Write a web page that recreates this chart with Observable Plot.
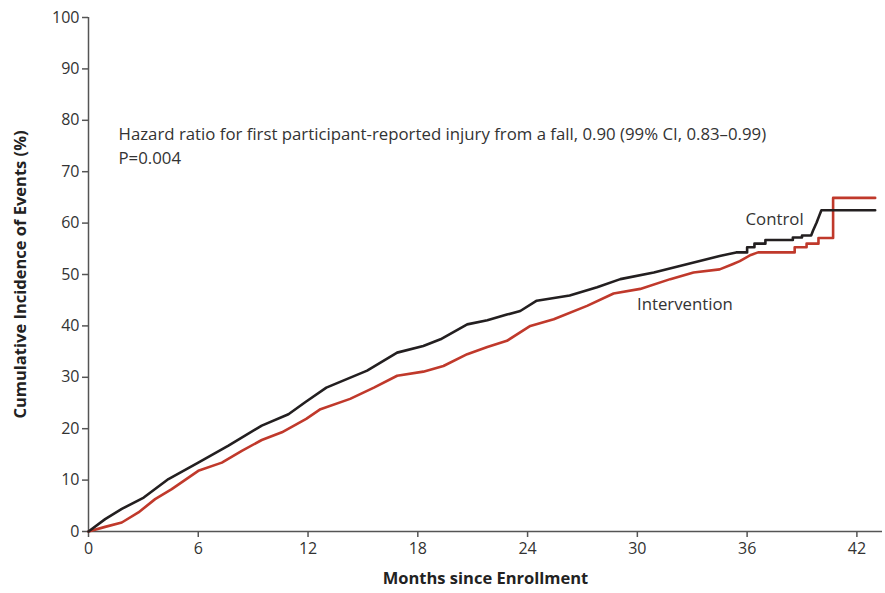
<!DOCTYPE html>
<html>
<head>
<meta charset="utf-8">
<script src="https://cdn.jsdelivr.net/npm/d3@7"></script>
<script src="https://cdn.jsdelivr.net/npm/@observablehq/plot@0.6"></script>
<style>
  html, body { margin: 0; padding: 0; background: #fff; }
  #chart svg { display: block; }
</style>
</head>
<body>
<div id="chart"></div>
<script>
const xTicks = [0, 6, 12, 18, 24, 30, 36, 42];
const yTicks = [0, 10, 20, 30, 40, 50, 60, 70, 80, 90, 100];

const controlMonths = [0, 0.91, 1.82, 3.02, 4.37, 6.0, 7.65, 9.47, 10.93, 11.9, 13.0, 15.23, 16.87, 18.3, 19.24, 20.7, 21.8, 22.87, 23.6, 24.5, 26.3, 27.8, 29.07, 30.9, 32.7, 34.5, 35.4,
  36.0, 36.0, 36.4, 36.4, 37.0, 37.0, 38.5, 38.5, 39.0, 39.0, 39.5, 39.6, 39.8, 39.95, 40.06, 43.0];
const controlValues = [0, 2.4, 4.4, 6.6, 10.2, 13.4, 16.7, 20.6, 22.8, 25.3, 28.0, 31.3, 34.8, 36.1, 37.4, 40.3, 41.1, 42.2, 42.9, 44.9, 45.9, 47.5, 49.1, 50.4, 52.0, 53.6, 54.3,
  54.3, 55.3, 55.3, 56.0, 56.0, 56.7, 56.7, 57.2, 57.2, 57.6, 57.6, 58.5, 60.1, 61.5, 62.5, 62.5];

const interventionMonths = [0, 0.91, 1.82, 2.73, 3.64, 4.55, 6.0, 7.29, 8.38, 9.47, 10.57, 11.9, 12.68, 14.3, 15.6, 16.87, 18.3, 19.4, 20.7, 21.8, 22.87, 24.15, 25.43, 27.25, 28.7, 30.16, 31.8, 33.07, 34.5, 35.2,
  35.6, 36.2, 36.6, 38.6, 38.6, 39.25, 39.25, 39.9, 39.9, 40.7, 40.7, 43.0];
const interventionValues = [0, 0.9, 1.75, 3.7, 6.3, 8.25, 11.8, 13.4, 15.7, 17.8, 19.3, 21.9, 23.8, 25.8, 28.0, 30.3, 31.1, 32.2, 34.5, 35.9, 37.1, 40.0, 41.3, 43.9, 46.3, 47.2, 49.1, 50.4, 51.0, 52.0,
  52.6, 53.8, 54.3, 54.3, 55.3, 55.3, 56.0, 56.0, 57.1, 57.1, 64.9, 64.9];

const seriesNames = ["Control", "Intervention"];
const seriesColors = ["#231f20", "#c0392b"];

const hazardText = "Hazard ratio for first participant-reported injury from a fall, 0.90 (99% CI, 0.83\u20130.99)";
const pText = "P=0.004";

const control = controlMonths.map((m, i) => ({month: m, value: controlValues[i], group: "Control"}));
const intervention = interventionMonths.map((m, i) => ({month: m, value: interventionValues[i], group: "Intervention"}));

const axisColor = "#555";

const chart = Plot.plot({
  width: 885,
  height: 593,
  marginLeft: 88,
  marginRight: 3,
  marginTop: 17,
  marginBottom: 62,
  style: {fontFamily: "'Open Sans', sans-serif", fontSize: "16px", color: "#333", background: "#fff"},
  x: {domain: [0, 43.4]},
  y: {domain: [0, 100]},
  color: {domain: seriesNames, range: seriesColors},
  marks: [
    Plot.axisX({ticks: xTicks, tickSize: 6, tickPadding: 5, stroke: axisColor, strokeWidth: 1.5, fill: "#333", fontSize: 16, label: null}),
    Plot.axisY({ticks: yTicks, tickSize: 6, tickPadding: 3, stroke: axisColor, strokeWidth: 1.5, fill: "#333", fontSize: 16, label: null}),
    Plot.ruleY([0], {x1: 0, x2: 43.4, stroke: axisColor, strokeWidth: 1.5}),
    Plot.ruleX([0], {y1: 0, y2: 100, stroke: axisColor, strokeWidth: 1.5}),
    Plot.line(intervention, {x: "month", y: "value", stroke: "group", strokeWidth: 2.6, curve: "linear"}),
    Plot.line(control, {x: "month", y: "value", stroke: "group", strokeWidth: 2.6, curve: "linear"}),
    Plot.text([hazardText], {x: 1.64, y: 77.2, text: d => d, textAnchor: "start", fontSize: 16.8, fill: "#333"}),
    Plot.text([pText], {x: 1.64, y: 72.6, text: d => d, textAnchor: "start", fontSize: 16.8, fill: "#333"}),
    Plot.text(["Control"], {x: 37.5, y: 60.6, text: d => d, textAnchor: "middle", fontSize: 16.8, fill: "#333"}),
    Plot.text(["Intervention"], {x: 32.6, y: 44.1, text: d => d, textAnchor: "middle", fontSize: 16.8, fill: "#333"}),
    Plot.text(["Cumulative Incidence of Events (%)"], {frameAnchor: "left", textAnchor: "middle", rotate: -90, dx: -68, text: d => d, fontSize: 16.5, fontWeight: "bold", fill: "#222"}),
    Plot.text(["Months since Enrollment"], {frameAnchor: "bottom", dy: 52, text: d => d, fontSize: 16.5, fontWeight: "bold", fill: "#222"})
  ]
});
document.getElementById("chart").appendChild(chart);
</script>
</body>
</html>
